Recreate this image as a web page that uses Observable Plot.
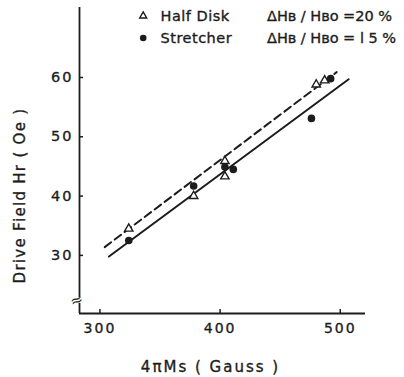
<!DOCTYPE html>
<html>
<head>
<meta charset="utf-8">
<script src="https://cdn.jsdelivr.net/npm/d3@7"></script>
<script src="https://cdn.jsdelivr.net/npm/@observablehq/plot@0.6"></script>
<style>
  html, body { margin: 0; padding: 0; background: #fff; }
</style>
</head>
<body>
<div id="chart"></div>
<script>
// Data
const halfDiskMs = [324, 378, 404, 404, 480, 487];
const halfDiskHr = [34.5, 40.0, 45.9, 43.3, 58.8, 59.5];
const stretcherMs = [324, 378, 404, 411, 476, 492];
const stretcherHr = [32.5, 41.7, 44.9, 44.5, 53.1, 59.8];

// fitted lines (endpoints)
const dashedMs = [304, 497];
const dashedHr = [31.4, 60.9];
const solidMs = [307.5, 507];
const solidHr = [29.8, 59.7];

const xTicks = [300, 400, 500];
const yTicks = [30, 40, 50, 60];
const xDomain = [283, 521];
const yDomain = [20.2, 71.8];
const yBreak = [21.9, 22.9];

const xLabel = "4πMs ( Gauss )";
const yLabel = "Drive Field Hr ( Oe )";
const legendNames = ["Half Disk", "Stretcher"];
const legendRatios = ["ΔHʙ / Hʙᴏ =20 %", "ΔHʙ / Hʙᴏ = l 5 %"];

const ink = "#1c1c1c";
const pts = (xs, ys) => xs.map((x, i) => ({x, y: ys[i]}));
const txt = {fill: ink, stroke: ink, strokeWidth: 0.35};

const chart = Plot.plot({
  width: 404,
  height: 377,
  marginLeft: 79,
  marginRight: 39,
  marginTop: 7,
  marginBottom: 64,
  style: {fontFamily: "DejaVu Sans", color: ink, background: "#fff"},
  x: {domain: xDomain},
  y: {domain: yDomain},
  marks: [
    // axis lines
    Plot.ruleY([yDomain[0]], {stroke: ink, strokeWidth: 1.8}),
    Plot.ruleX([xDomain[0]], {y1: yBreak[1], y2: yDomain[1], stroke: ink, strokeWidth: 1.8}),
    Plot.ruleX([xDomain[0]], {y1: yDomain[0], y2: yBreak[0], stroke: ink, strokeWidth: 1.8}),
    Plot.text(["≈"], {x: xDomain[0], y: (yBreak[0] + yBreak[1]) / 2, dx: -3, fontSize: 15, fill: ink, rotate: -20}),
    Plot.axisX({ticks: xTicks, tickSize: -4, tickPadding: 14, fontSize: 14, stroke: ink, strokeWidth: 1.5, fill: ink, textStroke: ink, textStrokeWidth: 0.35, label: null}),
    Plot.axisY({ticks: yTicks, tickSize: -4, tickPadding: 10, fontSize: 14.5, stroke: ink, strokeWidth: 1.5, fill: ink, textStroke: ink, textStrokeWidth: 0.35, label: null}),
    // fit lines
    Plot.line(pts(dashedMs, dashedHr), {x: "x", y: "y", stroke: ink, strokeWidth: 2, strokeDasharray: "8,4.5"}),
    Plot.line(pts(solidMs, solidHr), {x: "x", y: "y", stroke: ink, strokeWidth: 2}),
    // data points
    Plot.dot(pts(halfDiskMs, halfDiskHr), {x: "x", y: "y", symbol: "triangle", r: 3.1, stroke: ink, strokeWidth: 1.4, fill: "#fff"}),
    Plot.dot(pts(stretcherMs, stretcherHr), {x: "x", y: "y", symbol: "circle", r: 3.8, fill: ink}),
    // legend
    Plot.dot([0], {frameAnchor: "top-left", dx: 63.7, dy: 8.5, symbol: "triangle", r: 2.6, stroke: ink, strokeWidth: 1.4, fill: "#fff"}),
    Plot.dot([0], {frameAnchor: "top-left", dx: 63.7, dy: 30.5, symbol: "circle", r: 3.3, fill: ink}),
    Plot.text([legendNames[0]], {frameAnchor: "top-left", dx: 81, dy: 9, textAnchor: "start", lineAnchor: "middle", fontSize: 14.5, ...txt}),
    Plot.text([legendNames[1]], {frameAnchor: "top-left", dx: 81, dy: 31, textAnchor: "start", lineAnchor: "middle", fontSize: 14.5, ...txt}),
    Plot.text([legendRatios[0]], {frameAnchor: "top-left", dx: 187.5, dy: 9, textAnchor: "start", lineAnchor: "middle", fontSize: 14.5, ...txt}),
    Plot.text([legendRatios[1]], {frameAnchor: "top-left", dx: 187.5, dy: 31, textAnchor: "start", lineAnchor: "middle", fontSize: 14.5, ...txt}),
    // axis labels
    Plot.text([xLabel], {frameAnchor: "bottom", dx: -12, dy: 54, textAnchor: "middle", lineAnchor: "middle", fontSize: 15, ...txt}),
    Plot.text([yLabel], {frameAnchor: "left", dx: -59, dy: 35, rotate: -90, textAnchor: "middle", lineAnchor: "middle", fontSize: 15, ...txt})
  ]
});

// letter spacing per text group
const svg = d3.select(chart);
svg.selectAll('g[aria-label="x-axis tick label"] text, g[aria-label="y-axis tick label"] text').style("letter-spacing", "2px");
svg.selectAll("text").filter(function () { return this.textContent === xLabel; }).style("letter-spacing", "2px");
svg.selectAll("text").filter(function () { return this.textContent === yLabel; }).style("letter-spacing", "1.3px");
svg.selectAll("text").filter(function () { return legendNames.includes(this.textContent); }).style("letter-spacing", "0.5px");

document.getElementById("chart").appendChild(chart);
</script>
</body>
</html>
